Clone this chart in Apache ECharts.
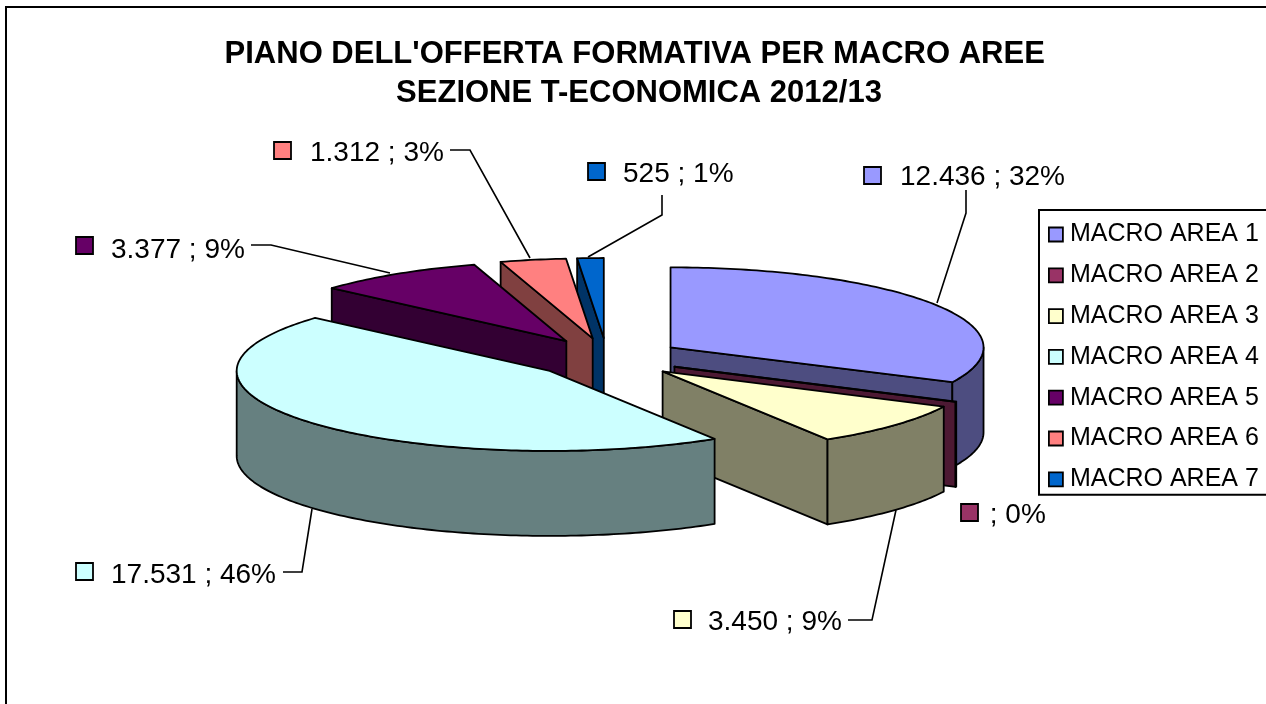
<!DOCTYPE html>
<html>
<head>
<meta charset="utf-8">
<style>html,body{margin:0;padding:0;background:#fff}#c{width:1266px;height:704px}</style>
<script src="https://cdn.jsdelivr.net/npm/echarts@6/dist/echarts.min.js"></script>
</head>
<body>
<div id="c"></div>
<script>
// Data
const categories = ['MACRO AREA 1','MACRO AREA 2','MACRO AREA 3','MACRO AREA 4','MACRO AREA 5','MACRO AREA 6','MACRO AREA 7'];
const values = [12436, 30, 3450, 17531, 3377, 1312, 525];
const labelTexts = ['12.436 ; 32%',' ; 0%','3.450 ; 9%','17.531 ; 46%','3.377 ; 9%','1.312 ; 3%','525 ; 1%'];
const titleText = "PIANO DELL'OFFERTA FORMATIVA PER MACRO AREE \nSEZIONE T-ECONOMICA 2012/13";
// Styles
const topColors  = ['#9999FF','#993366','#FFFFCC','#CCFFFF','#660066','#FF8080','#0066CC'];
const sideColors = ['#4D4D80','#4D1933','#808066','#668080','#330033','#804040','#003366'];
const drawOrder  = [6,5,4,0,1,2,3];
// Layout of the projected pie
const FONT = '"Liberation Sans", Arial, sans-serif';
const CX = 607, CY = 358, RX = 313, RY = 80, DEPTH = 85, EXPLODE_X = 75, EXPLODE_Y = 20;
// Label layout: swatch x, swatch y, text x, text y, leader path
const labelLayout = [
  {sx:864, sy:167, tx:900, ty:177, path:[[966,190],[966,213],[937,303]]},
  {sx:961, sy:504, tx:982, ty:515, path:null},
  {sx:674, sy:611, tx:708, ty:622, path:[[848,620],[872,620],[896,510]]},
  {sx:76,  sy:563, tx:111, ty:575, path:[[283,572],[302,572],[312,509]]},
  {sx:76,  sy:237, tx:111, ty:250, path:[[251,245],[271,245],[390,273]]},
  {sx:274, sy:142, tx:310, ty:153, path:[[450,150],[470,150],[530,258]]},
  {sx:588, sy:163, tx:623, ty:174, path:[[662,195],[662,215],[588,257]]}
];

const total = values.reduce((a,b)=>a+b,0);
const spans = [];
values.reduce((acc,v)=>{const next=acc+v/total*360;spans.push([acc,next]);return next;},0);
const rad = d => d*Math.PI/180;

function arcPoints(ax,ay,a,b,dy){
  const pts=[], n=Math.max(1,Math.ceil(Math.abs(b-a)));
  for(let k=0;k<=n;k++){
    const t=rad(a+(b-a)*k/n);
    pts.push([ax+RX*Math.sin(t), ay-RY*Math.cos(t)+dy]);
  }
  return pts;
}
function renderSlice(i){
  return function(){
    const [a,b]=spans[i], mid=rad((a+b)/2);
    const ax=CX+EXPLODE_X*Math.sin(mid), ay=CY-EXPLODE_Y*Math.cos(mid);
    const line={stroke:'#000',lineWidth:1.8,lineJoin:'round'};
    const children=[];
    const face=t=>{
      const px=ax+RX*Math.sin(rad(t)), py=ay-RY*Math.cos(rad(t));
      children.push({type:'polygon',shape:{points:[[ax,ay],[px,py],[px,py+DEPTH],[ax,ay+DEPTH]]},
        style:Object.assign({fill:sideColors[i]},line)});
    };
    if(Math.sin(rad(a))<-1e-6) face(a);
    if(Math.sin(rad(b))>1e-6) face(b);
    const wa=Math.max(a,90), wb=Math.min(b,270);
    if(wb>wa){
      const upper=arcPoints(ax,ay,wa,wb,0), lower=arcPoints(ax,ay,wa,wb,DEPTH).reverse();
      children.push({type:'polygon',shape:{points:upper.concat(lower)},style:Object.assign({fill:sideColors[i]},line)});
    }
    children.push({type:'polygon',shape:{points:[[ax,ay]].concat(arcPoints(ax,ay,a,b,0))},
      style:Object.assign({fill:topColors[i]},line)});
    const L=labelLayout[i];
    if(L.path) children.push({type:'polyline',shape:{points:L.path},style:{stroke:'#000',lineWidth:1.6,fill:null}});
    children.push({type:'rect',shape:{x:L.sx,y:L.sy,width:17,height:17},style:{fill:topColors[i],stroke:'#000',lineWidth:1.8}});
    children.push({type:'text',style:{x:L.tx,y:L.ty,text:labelTexts[i],fill:'#000',font:'28px '+FONT,textAlign:'left',textVerticalAlign:'middle'}});
    return {type:'group',children};
  };
}

const chart=echarts.init(document.getElementById('c'),null,{renderer:'canvas'});
chart.setOption({
  animation:false,
  backgroundColor:'#fff',
  title:{text:titleText,left:634,top:30,textAlign:'center',
    textStyle:{fontFamily:FONT,fontSize:31,fontWeight:'bold',color:'#000',lineHeight:39}},
  legend:{
    orient:'vertical',left:1039,top:210,selectedMode:false,
    padding:[12,30,3,9],itemGap:15.8,itemWidth:14,itemHeight:14,
    borderColor:'#000',borderWidth:2,backgroundColor:'#fff',
    textStyle:{fontFamily:FONT,fontSize:25,color:'#000',lineHeight:25,padding:[0,0,0,2]},
    data:categories.map((name,i)=>({name,icon:'rect',itemStyle:{color:topColors[i],borderColor:'#000',borderWidth:1.8}}))
  },
  graphic:[{type:'polyline',silent:true,z:-1,shape:{points:[[6,704],[6,7],[1266,7]]},style:{stroke:'#000',lineWidth:2,fill:null}}],
  series:categories.map((name,i)=>({
    type:'custom',name,coordinateSystem:'none',silent:true,
    z:2+drawOrder.indexOf(i),
    itemStyle:{color:topColors[i]},
    data:[values[i]],
    renderItem:renderSlice(i)
  }))
});
</script>
</body>
</html>
